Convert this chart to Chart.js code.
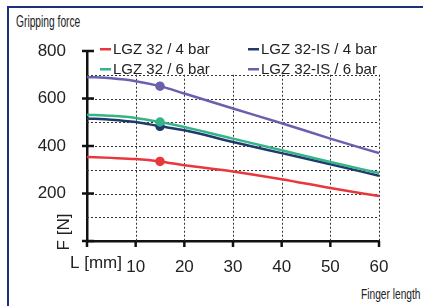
<!DOCTYPE html>
<html>
<head>
<meta charset="utf-8">
<script src="https://cdn.jsdelivr.net/npm/chart.js@4.4.0/dist/chart.umd.min.js"></script>
<style>
    html, body { margin: 0; padding: 0; background: #fff; }
    #wrap { position: relative; width: 423px; height: 306px; overflow: hidden; }
    #frame { position: absolute; left: 7px; top: 6px; right: -4px; bottom: -4px;
             border-left: 2px solid #1e2f7e; border-top: 2px solid #1e2f7e; }
    .cap { position: absolute; font-family: "Liberation Sans", Arial, sans-serif;
           color: #222; transform-origin: left top; white-space: nowrap; }
    #title { left: 16px; top: 13px; font-size: 16px; transform: scaleX(0.64); }
    #xname { left: 361px; top: 285px; font-size: 15px; transform: scaleX(0.68); }
    canvas { position: absolute; left: 0; top: 0; }
</style>
</head>
<body>
<div id="wrap">
    <div id="frame"></div>
    <div class="cap" id="title">Gripping force</div>
    <div class="cap" id="xname">Finger length</div>
    <canvas id="forceChart" width="423" height="306"></canvas>
</div>
<script>
// 数据
const fingerLength = [0, 5, 10, 15, 20, 30, 40, 50, 60];
const lgz4 = [354, 350, 345, 335, 319, 293, 260, 223, 189];
const lgz6 = [532, 527, 518, 501, 480, 431, 382, 333, 286];
const lgzIs4 = [516, 511, 501, 483, 466, 417, 370, 323, 275];
const lgzIs6 = [691, 685, 673, 652, 621, 558, 496, 431, 370];
const seriesLabels = ['LGZ 32 / 4 bar', 'LGZ 32 / 6 bar', 'LGZ 32-IS / 4 bar', 'LGZ 32-IS / 6 bar'];
const xTicks = [10, 20, 30, 40, 50, 60];
const yTicks = [200, 400, 600, 800];
const gridX = [10, 20, 30, 40, 50, 60];
const gridY = [100, 200, 300, 400, 500, 600, 700];
const markAt = 15;

const colors = ['#e8383d', '#35b487', '#1f3a6b', '#6a60ad'];

function toPoints(vals) {
    return fingerLength.map((x, i) => ({ x: x, y: vals[i] }));
}

function makeSet(label, vals, color) {
    return {
        label: label,
        data: toPoints(vals),
        borderColor: color,
        backgroundColor: color,
        borderWidth: 2.5,
        cubicInterpolationMode: 'monotone',
        pointRadius: fingerLength.map(x => x === markAt ? 3.5 : 0),
        pointHoverRadius: 0
    };
}

// 网格、刻度和图例
const decorPlugin = {
    id: 'decor',
    beforeDatasetsDraw(chart) {
        const ctx = chart.ctx;
        const xs = chart.scales.x, ys = chart.scales.y;
        const x0 = xs.getPixelForValue(0), x1 = xs.getPixelForValue(60);
        const y0 = ys.getPixelForValue(0), y1 = ys.getPixelForValue(700);
        ctx.save();
        ctx.strokeStyle = '#333';
        ctx.lineWidth = 1;
        ctx.setLineDash([2, 2]);
        gridY.forEach(v => {
            const y = Math.round(ys.getPixelForValue(v)) + 0.5;
            ctx.beginPath(); ctx.moveTo(x0, y); ctx.lineTo(x1, y); ctx.stroke();
        });
        gridX.forEach(v => {
            const x = Math.round(xs.getPixelForValue(v)) + 0.5;
            ctx.beginPath(); ctx.moveTo(x, y1); ctx.lineTo(x, y0); ctx.stroke();
        });
        ctx.setLineDash([]);
        // 刻度线
        ctx.strokeStyle = '#111';
        ctx.lineWidth = 2.5;
        [0].concat(yTicks).forEach(v => {
            const y = ys.getPixelForValue(v);
            ctx.beginPath(); ctx.moveTo(x0 - 5, y); ctx.lineTo(x0 + 7, y); ctx.stroke();
        });
        [0].concat(xTicks).forEach(v => {
            const x = xs.getPixelForValue(v);
            ctx.beginPath(); ctx.moveTo(x, y0); ctx.lineTo(x, y0 + 6); ctx.stroke();
        });
        ctx.restore();
    },
    afterDraw(chart) {
        const ctx = chart.ctx;
        const xs = chart.scales.x, ys = chart.scales.y;
        const x0 = xs.getPixelForValue(0), y0 = ys.getPixelForValue(0);
        ctx.save();
        ctx.textBaseline = 'middle';
        ctx.fillStyle = '#222';
        // 轴名称
        ctx.font = '17px "Liberation Sans", Arial, sans-serif';
        ctx.textAlign = 'left';
        ctx.fillText('L [mm]', x0 - 17, y0 + 22);
        ctx.save();
        ctx.translate(x0 - 23, y0 - 9);
        ctx.rotate(-Math.PI / 2);
        ctx.textAlign = 'center';
        ctx.fillText('F [N]', 0, 0);
        ctx.restore();
        // 图例
        ctx.font = '15px "Liberation Sans", Arial, sans-serif';
        const order = [0, 2, 1, 3];
        order.forEach((di, k) => {
            const col = k % 2, row = Math.floor(k / 2);
            const lx = x0 + 13 + col * 148;
            const ly = ys.top - 2 + row * 20;
            const ds = chart.data.datasets[di];
            ctx.fillStyle = ds.borderColor;
            ctx.fillRect(lx, ly - 1, 11, 2.5);
            ctx.fillStyle = '#222';
            ctx.textAlign = 'left';
            ctx.fillText(ds.label, lx + 13, ly + 1);
        });
        ctx.restore();
    }
};

const tickFont = { family: '"Liberation Sans", Arial, sans-serif', size: 17 };

const forceChart = new Chart(document.getElementById('forceChart').getContext('2d'), {
    type: 'line',
    data: {
        datasets: [
            makeSet(seriesLabels[0], lgz4, colors[0]),
            makeSet(seriesLabels[1], lgz6, colors[1]),
            makeSet(seriesLabels[2], lgzIs4, colors[2]),
            makeSet(seriesLabels[3], lgzIs6, colors[3])
        ]
    },
    options: {
        responsive: false,
        animation: false,
        layout: { padding: { top: 51, right: 44, left: 0, bottom: 0 } },
        plugins: {
            legend: { display: false },
            tooltip: { enabled: false }
        },
        scales: {
            x: {
                type: 'linear',
                min: 0,
                max: 60,
                grid: { display: false },
                border: { display: true, color: '#111', width: 2.5 },
                afterFit: s => { s.height = 65; },
                afterBuildTicks: s => { s.ticks = [0].concat(xTicks).map(v => ({ value: v })); },
                ticks: {
                    color: '#222',
                    font: tickFont,
                    padding: 8,
                    maxRotation: 0,
                    callback: v => v === 0 ? '' : String(v)
                }
            },
            y: {
                min: 0,
                max: 800,
                grid: { display: false },
                border: { display: true, color: '#111', width: 2.5 },
                afterFit: s => { s.width = 87; },
                afterBuildTicks: s => { s.ticks = [0].concat(yTicks).map(v => ({ value: v })); },
                ticks: {
                    color: '#222',
                    font: tickFont,
                    padding: 13,
                    callback: v => v === 0 ? '' : String(v)
                }
            }
        }
    },
    plugins: [decorPlugin]
});
</script>
</body>
</html>
